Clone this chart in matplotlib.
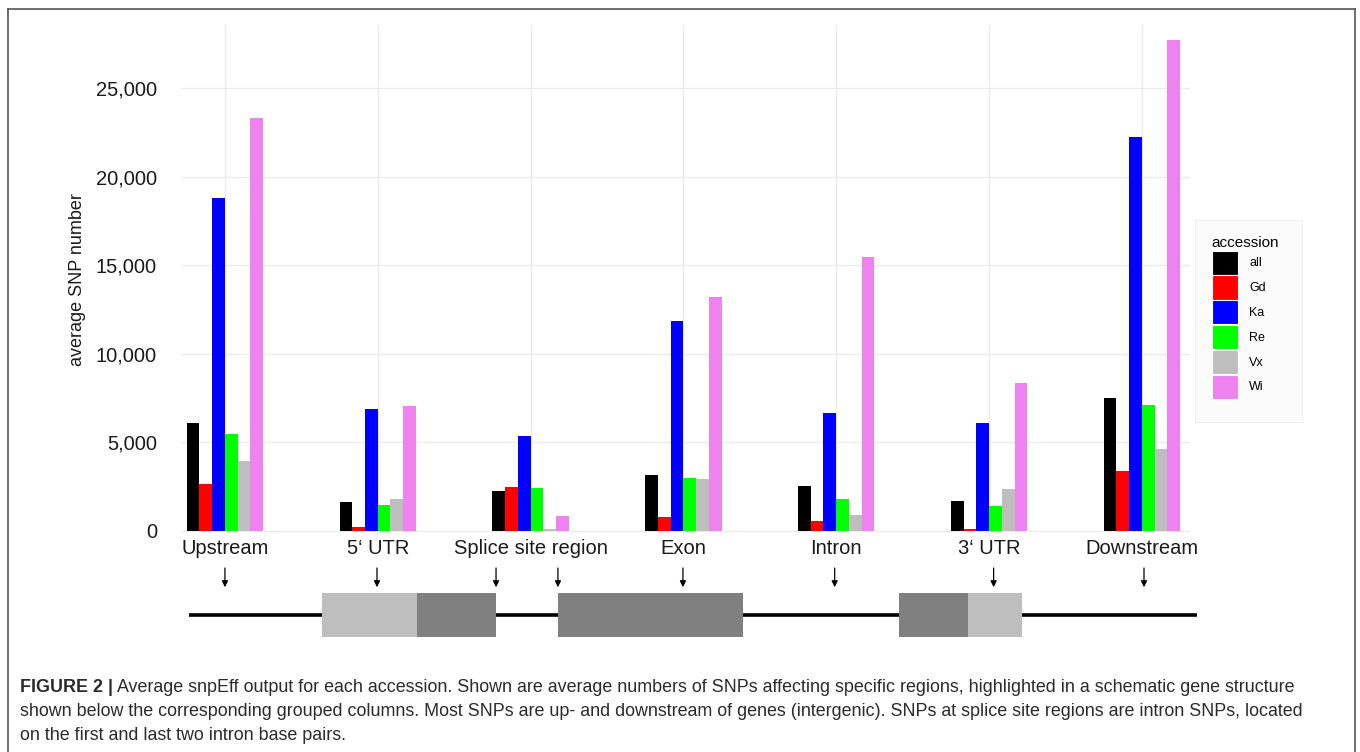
import matplotlib
matplotlib.use("Agg")
import matplotlib.pyplot as plt
from matplotlib.lines import Line2D
from matplotlib.patches import Rectangle
import numpy as np

plt.rcParams['font.family'] = ['Liberation Sans', 'DejaVu Sans']

regions = ["Upstream", "5\u2018 UTR", "Splice site region", "Exon", "Intron", "3\u2018 UTR", "Downstream"]
accessions = ["all", "Gd", "Ka", "Re", "Vx", "Wi"]
colors = ["#000000", "#ff0000", "#0000ff", "#00ff00", "#bebebe", "#ee82ee"]

snp_all = [6100, 1600, 2250, 3150, 2520, 1640, 7490]
snp_gd = [2600, 220, 2440, 740, 530, 110, 3350]
snp_ka = [18760, 6870, 5320, 11810, 6660, 6080, 22230]
snp_re = [5480, 1430, 2410, 2950, 1770, 1370, 7110]
snp_vx = [3950, 1800, 100, 2900, 890, 2330, 4610]
snp_wi = [23310, 7050, 810, 13190, 15460, 8340, 27720]
series = [snp_all, snp_gd, snp_ka, snp_re, snp_vx, snp_wi]

# gene schematic, in the same x units as the region groups
line_span = (-0.236, 6.361)
features = [(0.635, 1.257, "#bebebe"), (1.257, 1.774, "#808080"),
            (2.179, 3.390, "#808080"),
            (4.411, 4.863, "#808080"), (4.863, 5.216, "#bebebe")]
arrow_x = [0, 0.995, 1.774, 2.179, 2.997, 3.99, 5.03, 6.014]

caption = [
    "Average snpEff output for each accession. Shown are average numbers of SNPs affecting specific regions, highlighted in a schematic gene structure",
    "shown below the corresponding grouped columns. Most SNPs are up- and downstream of genes (intergenic). SNPs at splice site regions are intron SNPs, located",
    "on the first and last two intron base pairs.",
]

W, H = 1360, 752
fig = plt.figure(figsize=(W / 100, H / 100), dpi=100)
fig.patch.set_facecolor("white")

def px(x0, y0, x1, y1):
    return [x0 / W, 1 - y1 / H, (x1 - x0) / W, (y1 - y0) / H]

ax = fig.add_axes(px(182, 25, 1190, 535))
x = np.arange(len(regions))
bw = 0.5 / len(accessions)
for j, (name, vals) in enumerate(zip(accessions, series)):
    ax.bar(x + (j - 2.5) * bw, vals, width=bw, color=colors[j], label=name, zorder=3)

ax.set_xlim(-0.281, 6.315)
ax.set_ylim(-254, 28560)
ax.set_yticks([0, 5000, 10000, 15000, 20000, 25000])
ax.set_yticklabels(["0", "5,000", "10,000", "15,000", "20,000", "25,000"])
ax.set_xticks(x)
ax.set_xticklabels(regions)
ax.grid(True, color="#ebebeb", lw=1.0, zorder=0)
ax.set_axisbelow(True)
for s in ax.spines.values():
    s.set_visible(False)
ax.tick_params(axis="y", length=0, pad=18, labelsize=14.5, labelcolor="#1a1a1a")
ax.tick_params(axis="x", length=0, pad=3, labelsize=14.5, labelcolor="#1a1a1a")
ax.set_ylabel("average SNP number", fontsize=13, color="#1a1a1a", labelpad=7)

# legend background box
fig.add_artist(Rectangle((1195 / W, 1 - 422 / H), 107 / W, 202 / H, transform=fig.transFigure,
                         facecolor="#fbfbfb", edgecolor="#efefef", lw=0.8, zorder=0))
leg = ax.legend(title="accession", loc="upper left", bbox_to_anchor=(1205 / W, 1 - 229 / H),
                bbox_transform=fig.transFigure, fontsize=9, title_fontsize=11,
                handlelength=2.1, handleheight=2.6, labelspacing=0.05, handletextpad=0.9,
                borderpad=0.55, borderaxespad=0, frameon=False, alignment="left")
for p in leg.get_patches():
    p.set_edgecolor("white")
    p.set_linewidth(0.8)

# schematic gene structure
ax2 = fig.add_axes(px(182, 560, 1190, 640))
ax2.set_xlim(ax.get_xlim())
ax2.set_ylim(0, 1)
ax2.axis("off")
ax2.plot(line_span, [0.3125, 0.3125], color="black", lw=2.6, solid_capstyle="butt",
         clip_on=False, zorder=1)
for x0, x1, c in features:
    ax2.add_patch(Rectangle((x0, 0.0375), x1 - x0, 0.55, facecolor=c, edgecolor="none",
                            zorder=2, clip_on=False))
for xa in arrow_x:
    ax2.annotate("", xy=(xa, 0.66), xytext=(xa, 0.9),
                 arrowprops=dict(arrowstyle="-|>", color="black", lw=0.9, mutation_scale=9,
                                 shrinkA=0, shrinkB=0))

# caption
fig.canvas.draw()
r = fig.canvas.get_renderer()
fs = 12.9
t = fig.text(20 / W, 1 - 687 / H, "FIGURE 2 |", fontsize=fs, fontweight="bold",
             color="#2b2b2b", va="center", ha="left")
bb = t.get_window_extent(r)
fig.text(bb.x1 / W + 4 / W, 1 - 687 / H, caption[0], fontsize=fs, color="#2b2b2b",
         va="center", ha="left")
fig.text(20 / W, 1 - 712 / H, caption[1], fontsize=fs, color="#2b2b2b", va="center", ha="left")
fig.text(20 / W, 1 - 736 / H, caption[2], fontsize=fs, color="#2b2b2b", va="center", ha="left")

# frame
fc = "#555555"
fig.add_artist(Line2D([8 / W, 8 / W], [0, 1 - 9 / H], color=fc, lw=1.2))
fig.add_artist(Line2D([8 / W, 1355 / W], [1 - 9 / H, 1 - 9 / H], color=fc, lw=1.2))
fig.add_artist(Line2D([1355 / W, 1355 / W], [0, 1 - 9 / H], color=fc, lw=1.2))

fig.savefig("out.png", dpi=100)
